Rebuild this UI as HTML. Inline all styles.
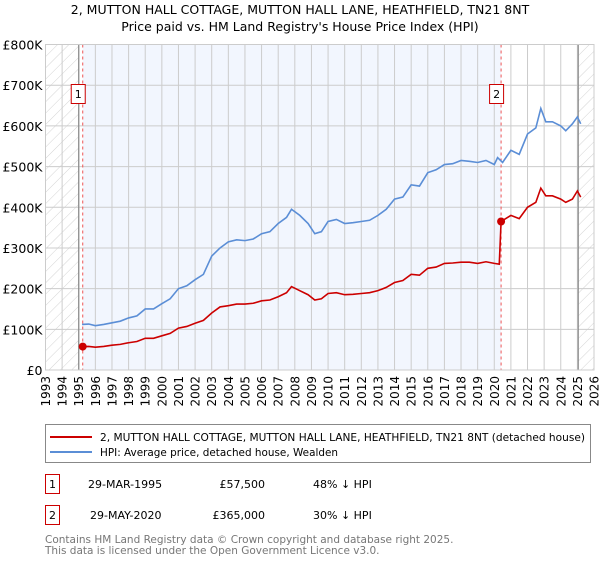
<!DOCTYPE html>
<html><head><meta charset="utf-8"><style>
body{margin:0;background:#fff;font-family:"DejaVu Sans","Liberation Sans",sans-serif;}
svg text{font-family:"DejaVu Sans","Liberation Sans",sans-serif;}
</style></head><body>
<svg id="chart" width="600" height="560" xmlns="http://www.w3.org/2000/svg">
<defs><pattern id="hatch" patternUnits="userSpaceOnUse" width="8" height="8" patternTransform="rotate(45)"><line x1="0" y1="0" x2="0" y2="8" stroke="#d4d4d4" stroke-width="1"/></pattern></defs>
<text x="300" y="14" text-anchor="middle" font-size="12.5">2, MUTTON HALL COTTAGE, MUTTON HALL LANE, HEATHFIELD, TN21 8NT</text>
<text x="300" y="31" text-anchor="middle" font-size="12.5">Price paid vs. HM Land Registry's House Price Index (HPI)</text>
<g id="plot"></g>
<rect x="45.5" y="424.5" width="545" height="38" fill="#fff" stroke="#888"/>
<line x1="50" y1="437" x2="92" y2="437" stroke="#cc0000" stroke-width="2"/>
<text x="100" y="441" font-size="10.5" textLength="485" lengthAdjust="spacingAndGlyphs">2, MUTTON HALL COTTAGE, MUTTON HALL LANE, HEATHFIELD, TN21 8NT (detached house)</text>
<line x1="50" y1="452" x2="92" y2="452" stroke="#5b8ed6" stroke-width="2"/>
<text x="100" y="456" font-size="10.5" textLength="238" lengthAdjust="spacingAndGlyphs">HPI: Average price, detached house, Wealden</text>
<g font-size="11">
<rect x="45.5" y="474.5" width="14" height="19" fill="#fff" stroke="#cc0000"/><text x="52.5" y="488" text-anchor="middle">1</text>
<text x="88" y="488">29-MAR-1995</text><text x="265" y="488" text-anchor="end">£57,500</text><text x="313" y="488">48% ↓ HPI</text></g>
<g font-size="11">
<rect x="45.5" y="505.5" width="14" height="19" fill="#fff" stroke="#cc0000"/><text x="52.5" y="519" text-anchor="middle">2</text>
<text x="90" y="519">29-MAY-2020</text><text x="265" y="519" text-anchor="end">£365,000</text><text x="313" y="519">30% ↓ HPI</text></g>
<text x="45" y="543" font-size="10.5" fill="#777">Contains HM Land Registry data © Crown copyright and database right 2025.</text>
<text x="45" y="554" font-size="10.5" fill="#777">This data is licensed under the Open Government Licence v3.0.</text>
</svg>
<script>
const hpiYears=[1995.2,1995.6,1996,1996.5,1997,1997.5,1998,1998.5,1999,1999.5,2000,2000.5,2001,2001.5,2002,2002.5,2003,2003.5,2004,2004.5,2005,2005.5,2006,2006.5,2007,2007.5,2007.8,2008.3,2008.8,2009.2,2009.6,2010,2010.5,2011,2011.5,2012,2012.5,2013,2013.5,2014,2014.5,2015,2015.5,2016,2016.5,2017,2017.5,2018,2018.5,2019,2019.5,2020,2020.2,2020.5,2021,2021.5,2022,2022.5,2022.8,2023.1,2023.5,2024,2024.3,2024.7,2025,2025.2];
const hpiValues=[112,113,109,112,116,120,128,133,150,150,163,175,200,207,222,235,280,300,315,320,318,322,335,340,360,375,395,380,360,335,340,365,370,360,362,365,368,380,395,420,425,455,452,485,492,505,507,515,513,510,515,505,522,510,540,530,580,595,643,610,610,600,588,605,622,605];
const priceYears=[1995.24,1995.6,1996,1996.5,1997,1997.5,1998,1998.5,1999,1999.5,2000,2000.5,2001,2001.5,2002,2002.5,2003,2003.5,2004,2004.5,2005,2005.5,2006,2006.5,2007,2007.5,2007.8,2008.3,2008.8,2009.2,2009.6,2010,2010.5,2011,2011.5,2012,2012.5,2013,2013.5,2014,2014.5,2015,2015.5,2016,2016.5,2017,2017.5,2018,2018.5,2019,2019.5,2020,2020.3,2020.41,2021,2021.5,2022,2022.5,2022.8,2023.1,2023.5,2024,2024.3,2024.7,2025,2025.2];
const priceValues=[57.5,58,56,58,61,63,67,70,78,78,84,90,103,107,115,122,140,155,158,162,162,164,170,172,180,190,205,195,185,172,175,188,190,185,186,188,190,195,203,215,220,235,233,250,253,262,263,265,265,262,266,262,260,365,380,372,400,412,447,428,428,420,412,420,440,425];
const yTicks=[0,100,200,300,400,500,600,700,800];
const yTickLabels=["£0","£100K","£200K","£300K","£400K","£500K","£600K","£700K","£800K"];
const xTicks=[1993,1994,1995,1996,1997,1998,1999,2000,2001,2002,2003,2004,2005,2006,2007,2008,2009,2010,2011,2012,2013,2014,2015,2016,2017,2018,2019,2020,2021,2022,2023,2024,2025,2026];
const sales=[[1995.24,57.5,"1"],[2020.41,365,"2"]];

const X0=45.5,X1=594,Y0=370,Y1=44.5;
const xs=y=>X0+(y-1993)/(2026-1993)*(X1-X0);
const ys=v=>Y0-(v/800)*(Y0-Y1);
const NS="http://www.w3.org/2000/svg";
const plot=document.getElementById('plot');
function mk(t,a,p){const e=document.createElementNS(NS,t);for(const k in a)e.setAttribute(k,a[k]);(p||plot).appendChild(e);return e;}

let r=mk('rect',{x:X0,y:Y1,width:X1-X0,height:Y0-Y1,fill:'#fff'});


r=mk('rect',{x:xs(1995.24),y:Y1,width:xs(2020.41)-xs(1995.24),height:Y0-Y1,fill:'#f2f6fe'});


r=mk('rect',{x:X0,y:Y1,width:xs(1995)-X0,height:Y0-Y1,fill:'url(#hatch)'});


r=mk('rect',{x:xs(2025.05),y:Y1,width:X1-xs(2025.05),height:Y0-Y1,fill:'url(#hatch)'});



xTicks.forEach(t=>{const x=xs(t);
 let l=mk('line',{x1:x,x2:x,y1:Y1,y2:Y0,stroke:'#ccc','stroke-width':1});
 
 
 let tx=mk('text',{x:0,y:0,'font-size':12,'text-anchor':'end',transform:`translate(${x+4.5},${Y0+6}) rotate(-90)`});
 tx.textContent=t;
 
 
});
yTicks.forEach((t,i)=>{const y=ys(t);
 let l=mk('line',{x1:X0,x2:X1,y1:y,y2:y,stroke:'#ccc','stroke-width':1});
 
 
 let tx=mk('text',{x:X0-3,y:y+5,'font-size':12.5,'text-anchor':'end'});
 tx.textContent=yTickLabels[i];
 
 
});
let b=mk('line',{x1:xs(1995),x2:xs(1995),y1:Y1,y2:Y0,stroke:'#888','stroke-width':1.2});


b=mk('line',{x1:xs(2025.05),x2:xs(2025.05),y1:Y1,y2:Y0,stroke:'#888','stroke-width':1.2});



sales.forEach(s=>{const x=xs(s[0]);
 let l=mk('line',{x1:x,x2:x,y1:Y1,y2:Y0,stroke:'#e55','stroke-width':1,'stroke-dasharray':'3,3'});
 
 
});

let hp=mk('polyline',{points:hpiYears.map((y,i)=>xs(y)+','+ys(hpiValues[i])).join(' '),fill:'none',stroke:'#5b8ed6','stroke-width':1.6});


let pp=mk('polyline',{points:priceYears.map((y,i)=>xs(y)+','+ys(priceValues[i])).join(' '),fill:'none',stroke:'#cc0000','stroke-width':1.6});



sales.forEach(s=>{const x=xs(s[0]);
 let c=mk('circle',{cx:x,cy:ys(s[1]),r:4,fill:'#cc0000'});
 
 
 let g=mk('g',{});
 
 
 mk('rect',{x:x-11.5,y:84.5,width:14,height:19,fill:'#fff',stroke:'#cc0000'},g);
 let t=mk('text',{x:x-4.5,y:98,'font-size':11,'text-anchor':'middle'},g);t.textContent=s[2];
});
let bd=mk('rect',{x:X0,y:Y1,width:X1-X0,height:Y0-Y1,fill:'none',stroke:'#ccc'});


</script>
</body></html>
